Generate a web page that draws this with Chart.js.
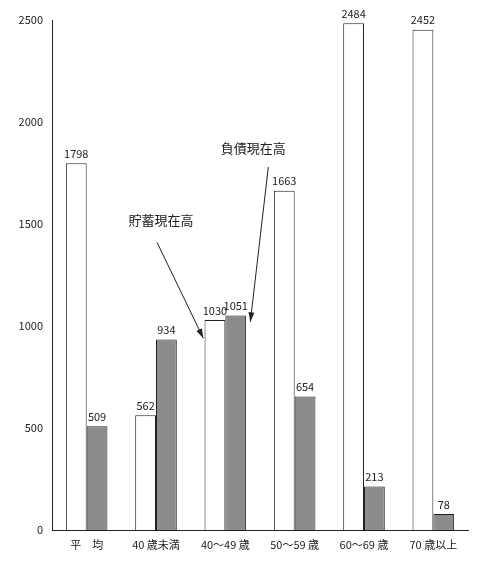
<!DOCTYPE html>
<html><head><meta charset="utf-8">
<script src="https://cdn.jsdelivr.net/npm/chart.js@4/dist/chart.umd.min.js"></script>
<style>body{margin:0;background:#fff}#wrap{width:500px;height:568px}</style>
</head><body><div id="wrap"><canvas id="c"></canvas></div>
<script>
const categories = ['平　均', '40 歳未満', '40～49 歳', '50～59 歳', '60～69 歳', '70 歳以上']
const savings = [1798, 562, 1030, 1663, 2484, 2452]
const debts = [509, 934, 1051, 654, 213, 78]
const yTicks = [0, 500, 1000, 1500, 2000, 2500]
const font = "'Noto Sans CJK JP', 'Noto Sans', sans-serif"

const extras = {
    id: 'extras',
    afterDatasetsDraw(chart) {
        const ctx = chart.ctx
        ctx.save()
        ctx.fillStyle = '#222'
        ctx.font = '11px ' + font
        ctx.textAlign = 'center'
        ctx.textBaseline = 'bottom'
        chart.data.datasets.forEach((ds, i) => {
            chart.getDatasetMeta(i).data.forEach((bar, j) => {
                ctx.fillText(ds.data[j], bar.x, bar.y - 4)
            })
        })
        // annotations
        const x = chart.scales.x, y = chart.scales.y
        const arrow = (x1, y1, x2, y2) => {
            ctx.beginPath(); ctx.moveTo(x1, y1); ctx.lineTo(x2, y2); ctx.stroke()
            const a = Math.atan2(y2 - y1, x2 - x1)
            ctx.beginPath()
            ctx.moveTo(x2, y2)
            ctx.lineTo(x2 - 10 * Math.cos(a - 0.3), y2 - 10 * Math.sin(a - 0.3))
            ctx.lineTo(x2 - 10 * Math.cos(a + 0.3), y2 - 10 * Math.sin(a + 0.3))
            ctx.closePath(); ctx.fill()
        }
        ctx.strokeStyle = '#222'
        ctx.lineWidth = 1
        ctx.font = '13px ' + font
        ctx.textBaseline = 'middle'
        const c1 = x.getPixelForValue(1), c2 = x.getPixelForValue(2)
        ctx.fillText('貯蓄現在高', c1 + 5, y.getPixelForValue(1520))
        arrow(c1 + 1, y.getPixelForValue(1410), c2 - 22, y.getPixelForValue(940))
        ctx.fillText('負債現在高', c2 + 28, y.getPixelForValue(1870))
        arrow(c2 + 43, y.getPixelForValue(1780), c2 + 25, y.getPixelForValue(1020))
        ctx.restore()
    }
}

new Chart(document.getElementById('c'), {
    type: 'bar',
    data: {
        labels: categories,
        datasets: [
            { label: '貯蓄現在高', data: savings, backgroundColor: '#fff', borderColor: '#222', borderWidth: 1 },
            { label: '負債現在高', data: debts, backgroundColor: '#8c8c8c', borderColor: '#222', borderWidth: 1 }
        ]
    },
    options: {
        responsive: true,
        maintainAspectRatio: false,
        animation: false,
        layout: { padding: { top: 20, right: 32 } },
        datasets: { bar: { categoryPercentage: 0.6, barPercentage: 1 } },
        plugins: { legend: { display: false }, tooltip: { enabled: false } },
        scales: {
            x: {
                offset: true,
                grid: { display: false, drawTicks: false },
                border: { color: '#222' },
                ticks: { color: '#222', font: { family: font, size: 11 }, padding: 8 },
                afterFit: s => { s.height = 38 }
            },
            y: {
                min: 0, max: 2500,
                afterBuildTicks: s => { s.ticks = yTicks.map(v => ({ value: v })) },
                grid: { display: false, drawTicks: true, tickLength: 5 },
                border: { color: '#222' },
                ticks: { color: '#222', font: { family: font, size: 11 }, padding: 4, callback: v => String(v) },
                afterFit: s => { s.width = 52 }
            }
        }
    },
    plugins: [extras]
})
</script></body></html>
